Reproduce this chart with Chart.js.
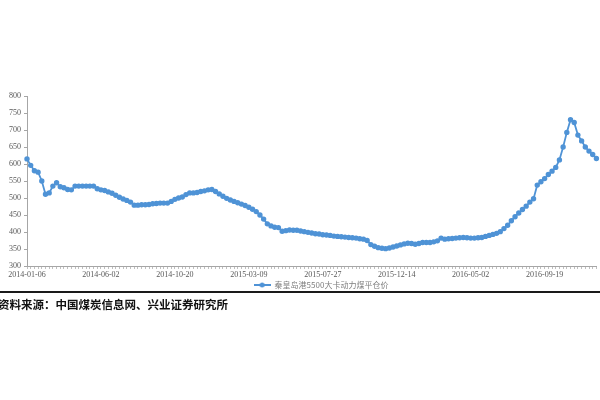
<!DOCTYPE html>
<html>
<head>
<meta charset="utf-8">
<script src="https://cdn.jsdelivr.net/npm/chart.js@4"></script>
<style>
  body { margin: 0; background: #fff; }
  #wrap { position: relative; width: 600px; height: 400px; }
  #box { position: absolute; left: 0; top: 0; width: 600px; height: 299px; }
  #rule { position: absolute; left: 0; top: 291px; width: 600px; height: 2px; background: #1a1a1a; }
  #source { position: absolute; left: -2px; top: 296px; font-family: "Noto Sans CJK SC", serif; font-size: 11.5px; font-weight: bold; color: #111; letter-spacing: 0px; }
</style>
</head>
<body>
<div id="wrap">
  <div id="box"><canvas id="coalChart"></canvas></div>
  <div id="rule"></div>
  <div id="source">资料来源：中国煤炭信息网、兴业证券研究所</div>
</div>
<script>
// weekly price, yuan/t
const seriesName = '秦皇岛港5500大卡动力煤平仓价';
const prices = [
    615, 596, 580, 576, 550, 511, 515, 535, 545, 533,
    530, 525, 524, 535, 535, 535, 535, 535, 535, 527,
    524, 522, 518, 514, 508, 502, 497, 493, 488, 479,
    479, 480, 480, 481, 483, 484, 485, 485, 485, 490,
    496, 500, 503, 510, 515, 515, 516, 519, 521, 524,
    525, 519, 512, 505, 499, 494, 490, 486, 482, 478,
    473, 467, 460, 450, 438, 424, 418, 414, 413, 402,
    404, 406, 405, 405, 403, 401, 399, 397, 395, 394,
    392, 391, 390, 388, 387, 386, 385, 384, 383, 382,
    380, 379, 375, 363, 358, 354, 352, 351, 353, 356,
    359, 362, 365, 367, 366, 364, 366, 369, 369, 369,
    371, 374, 382, 379, 380, 381, 382, 383, 384, 383,
    382, 382, 383, 384, 387, 390, 393, 396, 401, 410,
    420, 433, 445, 456, 466, 476, 488, 498, 538, 548,
    557, 569, 579, 590, 612, 650, 693, 730, 722, 685,
    668, 650, 638, 628, 616
];
const yTicks = [300, 350, 400, 450, 500, 550, 600, 650, 700, 750, 800];
const firstWeek = '2014-01-06';
const skippedWeeks = ['2014-02-03']; // holiday week with no quote
const labelEvery = 20;

// build weekly date labels
function buildWeeks(count) {
    const out = [];
    const d = new Date(firstWeek + 'T00:00:00Z');
    while (out.length < count) {
        const s = d.toISOString().slice(0, 10);
        if (!skippedWeeks.includes(s)) out.push(s);
        d.setUTCDate(d.getUTCDate() + 7);
    }
    return out;
}
const weeks = buildWeeks(prices.length);

const blue = '#4f93d6';

// little line+dot marker for the legend
const marker = document.createElement('canvas');
marker.width = 17; marker.height = 6;
const mctx = marker.getContext('2d');
mctx.strokeStyle = blue; mctx.lineWidth = 2;
mctx.beginPath(); mctx.moveTo(0, 3); mctx.lineTo(17, 3); mctx.stroke();
mctx.fillStyle = blue;
mctx.beginPath(); mctx.arc(8.5, 3, 2.5, 0, Math.PI * 2); mctx.fill();

const tickFont = { family: 'Liberation Serif', size: 8 };

// legend sits a bit right of centre in the original
const legendShift = {
    id: 'legendShift',
    afterLayout(chart) {
        chart.legend.left += 22;
        chart.legend.right += 22;
    }
};

new Chart(document.getElementById('coalChart'), {
    type: 'line',
    data: {
        labels: weeks,
        datasets: [{
            label: seriesName,
            data: prices,
            borderColor: blue,
            backgroundColor: blue,
            borderWidth: 1.8,
            pointRadius: 1.8,
            pointHoverRadius: 1.8,
            tension: 0
        }]
    },
    options: {
        responsive: true,
        maintainAspectRatio: false,
        animation: false,
        layout: { padding: { left: 0, right: 2, top: 96, bottom: 0 } },
        plugins: {
            tooltip: { enabled: false },
            legend: {
                position: 'bottom',
                labels: {
                    usePointStyle: true,
                    pointStyle: marker,
                    pointStyleWidth: 17,
                    font: { family: 'Noto Sans CJK SC', size: 8 },
                    color: '#7f7f7f',
                    padding: 2
                }
            }
        },
        scales: {
            x: {
                afterFit: function (scale) { scale.height = 13; },
                grid: { drawOnChartArea: false, tickLength: 3, color: '#bfbfbf' },
                border: { color: '#a6a6a6' },
                ticks: {
                    autoSkip: false,
                    maxRotation: 0,
                    padding: 1,
                    font: tickFont,
                    color: '#595959',
                    callback: function (v, i) { return i % labelEvery === 0 ? weeks[i] : ''; }
                }
            },
            y: {
                min: 300,
                max: 800,
                afterBuildTicks: function (scale) { scale.ticks = yTicks.map(v => ({ value: v })); },
                afterFit: function (scale) { scale.width = 27; },
                grid: { drawOnChartArea: false, tickLength: 3, color: '#a6a6a6' },
                border: { color: '#a6a6a6' },
                ticks: { font: tickFont, color: '#595959', padding: 3 }
            }
        }
    },
    plugins: [legendShift]
});
</script>
</body>
</html>
